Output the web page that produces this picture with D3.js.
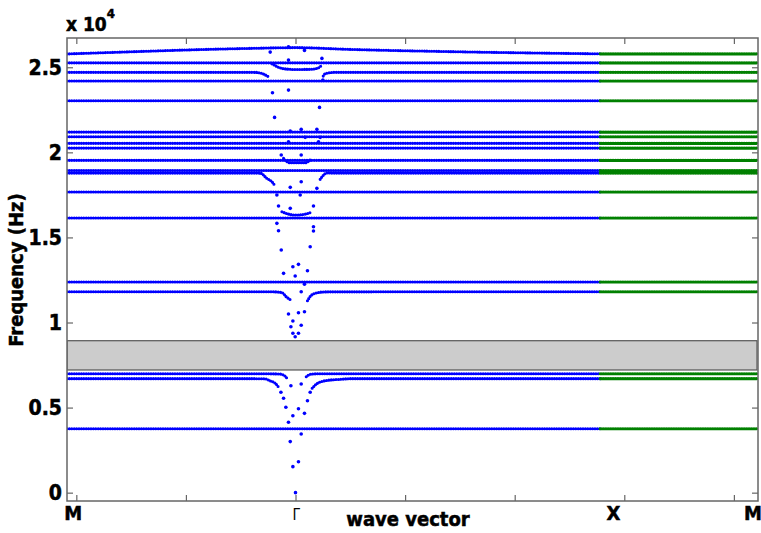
<!DOCTYPE html>
<html><head><meta charset="utf-8">
<script src="https://cdn.jsdelivr.net/npm/d3@7"></script>
<style>
body{margin:0;background:#fff}
svg{display:block}
text{font-family:"DejaVu Sans Condensed","DejaVu Sans","Liberation Sans Narrow",sans-serif;font-stretch:condensed;font-weight:bold;fill:#000;stroke:#000;stroke-width:0.5px}
</style></head><body>
<svg id="c" width="761" height="533"></svg>
<script>
// ---------- DATA ----------
const kM0 = -0.085, kG = 2.0, kX = 4.78, kM1 = 6.22;   // path positions (axis units)
const yTicks = [0, 5000, 10000, 15000, 20000, 25000];
const yTickLabels = ["0", "0.5", "1", "1.5", "2", "2.5"];
const xTicks = [0, 1, 2, 3, 4, 5, 6];
const symLabels = [{t:"M", k:-0.028}, {t:"\u0393", k:2.006}, {t:"X", k:4.9}, {t:"M", k:6.175}];
const gapBand = [7210, 8930];

// flat bands along X–M (Hz)
const xmFreqs = [25790, 25260, 24700, 24190, 23030, 21190, 20920, 20530, 20250, 19530,
                 18930, 18780, 17670, 16140, 12380, 11810, 6990, 6700, 3760];

// bands that stay flat along M–Γ–X (Hz)
const flatFreqs = [25260, 24190, 23030, 21190, 20920, 20530, 20250, 19530, 18930, 17670, 16140, 12380, 3760];

// bent branches along M–Γ–X, [k, Hz]
const bandTop   = [[kM0,25785],[0.402,25890],[1.131,26040],[1.587,26110],[2.0,26155],[2.499,26050],[3.411,25920],[kX,25790]];
const bowl25    = [[1.785,25200],[1.888,24920],[2.0,24870],[2.134,24880],[2.203,24950],[2.244,25150]];
const b24700L   = [[kM0,24700],[1.633,24700],[1.696,24628],[1.754,24440]];
const b24700R   = [[2.253,24481],[2.271,24628],[2.35,24700],[kX,24700]];
const bowl19    = [[1.891,19646],[1.945,19388],[2.088,19388],[2.134,19546]];
const b18780L   = [[kM0,18780],[1.678,18780],[1.739,18471],[1.785,18271],[1.815,18018]];
const b18780R   = [[2.225,18412],[2.286,18782],[2.40,18780],[kX,18780]];
const arc16     = [[1.876,16509],[1.945,16356],[2.0,16315],[2.098,16380],[2.150,16509]];
const b11810L   = [[kM0,11810],[1.769,11810],[1.876,11760],[1.915,11515],[1.958,11321]];
const b11810R   = [[2.109,11280],[2.140,11574],[2.189,11732],[2.271,11800],[kX,11810]];
const b6990L    = [[kM0,6990],[1.633,6990],[1.85,6975],[1.891,6915],[1.922,6721]];
const b6990R    = [[2.098,6815],[2.119,6915],[2.150,6974],[2.25,6990],[kX,6990]];
const b6700L    = [[kM0,6700],[1.587,6700],[1.724,6690],[1.769,6570],[1.815,6430],[1.849,6170]];
const b6700R    = [[2.152,6134],[2.180,6327],[2.210,6463],[2.257,6562],[2.316,6621],[2.408,6660],[2.499,6700],[kX,6700]];

// sparse points near Γ, [k, Hz]
const gammaPts = [
  [2.0,0],[1.976,1530],[2.027,1820],[1.952,3000],[2.052,3450],[1.936,4140],[1.912,5020],
  [1.976,4520],[2.027,4935],[2.082,4660],[1.891,5550],[2.109,5400],[1.867,5900],[2.134,5900],
  [1.958,6286],[2.052,6386],
  [1.976,9365],[2.027,9365],[1.997,9165],[1.958,9753],[2.052,9835],[1.976,10087],
  [1.936,10499],[2.027,10575],[2.082,10634],[2.052,11809],[2.082,12244],[1.997,12731],
  [1.891,12890],[2.109,13043],[1.976,13278],[2.027,13419],[1.870,14259],[2.134,14453],
  [1.845,15393],[2.164,15375],[1.830,15827],[2.164,15628],[1.845,16844],[1.952,16709],
  [2.164,16844],[1.830,17490],[2.043,17490],[1.952,17942],[2.195,17884],[2.052,18271],
  [1.870,19840],[2.052,19840],[1.936,20621],[2.210,20621],[2.088,20880],[2.225,20880],
  [1.952,21250],[2.052,21350],[2.195,21350],[1.809,22055],[2.219,22642],[1.790,23500],
  [1.936,23659],[2.250,24246],[1.936,25421],[2.241,25521],[1.769,25891],[1.936,26203],[2.082,25991]
];

// ---------- LAYOUT ----------
const L = 67, R = 758, T = 38, B = 501;
const svg = d3.select("#c");
const x = d3.scaleLinear().domain([kM0, kM1]).range([L, R]);
const y = d3.scaleLinear().domain([-490, 26720]).range([B, T]);

svg.append("defs").append("clipPath").attr("id","clip")
  .append("rect").attr("x",L).attr("y",T).attr("width",R-L).attr("height",B-T);

const g = svg.append("g").attr("clip-path","url(#clip)");

// band gap box
g.append("rect").attr("x", x(kM0)).attr("width", x(kM1)-x(kM0)-1)
  .attr("y", y(gapBand[1])).attr("height", y(gapBand[0]) - y(gapBand[1]))
  .attr("fill","#cccccc").attr("stroke","#555").attr("stroke-width",1.2);

const line = d3.line().x(d=>x(d[0])).y(d=>y(d[1])).curve(d3.curveMonotoneX);

const blueCurves = flatFreqs.map(f=>[[kM0,f],[kX,f]])
  .concat([bandTop,bowl25,b24700L,b24700R,bowl19,b18780L,b18780R,arc16,b11810L,b11810R,b6990L,b6990R,b6700L,b6700R]);

g.selectAll("path.blue").data(blueCurves).join("path").attr("class","blue")
  .attr("d", line).attr("fill","none").attr("stroke","#0000ff")
  .attr("stroke-width",3.1).attr("stroke-linecap","round").attr("stroke-dasharray","0 2.4");

g.selectAll("path.green").data(xmFreqs.map(f=>[[kX,f],[kM1,f]])).join("path").attr("class","green")
  .attr("d", line).attr("fill","none").attr("stroke","#008000")
  .attr("stroke-width",3.1).attr("stroke-linecap","round").attr("stroke-dasharray","0 1.7");

g.selectAll("circle.pt").data(gammaPts).join("circle").attr("class","pt")
  .attr("cx", d=>x(d[0])).attr("cy", d=>y(d[1])).attr("r",1.8).attr("fill","#0000ff");

// axes (inward ticks)
const axCol = "#666";
function styleAxis(sel){
  sel.select(".domain").remove();
  sel.selectAll(".tick line").attr("stroke",axCol).attr("stroke-width",1.2);
  sel.attr("font-family",null).attr("font-size",null);
}
svg.append("g").attr("transform",`translate(${L},0)`)
  .call(d3.axisLeft(y).tickValues(yTicks).tickFormat((d,i)=>yTickLabels[i]).tickSizeInner(-6).tickSizeOuter(0).tickPadding(5))
  .call(styleAxis)
  .call(s=>s.selectAll("text").attr("font-size",21));
svg.append("g").attr("transform",`translate(${R},0)`)
  .call(d3.axisRight(y).tickValues(yTicks).tickFormat("").tickSizeInner(-6).tickSizeOuter(0))
  .call(styleAxis);
svg.append("g").attr("transform",`translate(0,${B})`)
  .call(d3.axisBottom(x).tickValues(xTicks).tickFormat("").tickSizeInner(-6).tickSizeOuter(0))
  .call(styleAxis);
svg.append("g").attr("transform",`translate(0,${T})`)
  .call(d3.axisTop(x).tickValues(xTicks).tickFormat("").tickSizeInner(-6).tickSizeOuter(0))
  .call(styleAxis);

svg.append("rect").attr("x",L).attr("y",T).attr("width",R-L).attr("height",B-T)
  .attr("fill","none").attr("stroke",axCol).attr("stroke-width",1.5);

// symmetry labels
svg.selectAll("text.sym").data(symLabels).join("text").attr("class","sym")
  .attr("x", d=>x(d.k)).attr("y", 519.5).attr("text-anchor","middle")
  .attr("font-size", d=>d.t==="\u0393"?15:20)
  .style("font-weight", d=>d.t==="\u0393"?"normal":"bold")
  .style("stroke-width", d=>d.t==="\u0393"?"0":"0.5px")
  .text(d=>d.t);

// axis titles
svg.append("text").attr("x", 408).attr("y", 526).attr("text-anchor","middle")
  .attr("font-size",20).text("wave vector");
svg.append("text").attr("transform","translate(23,270) rotate(-90)").attr("text-anchor","middle")
  .attr("font-size",20).text("Frequency (Hz)");

// exponent label
const ex = svg.append("text").attr("x",66).attr("y",31).attr("font-size",19);
ex.append("tspan").text("x 10");
ex.append("tspan").attr("dy",-13).attr("font-size",13).text("4");
</script>
</body></html>
